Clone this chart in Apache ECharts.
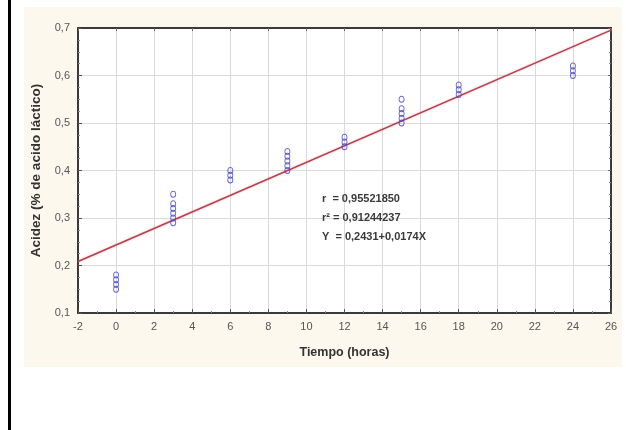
<!DOCTYPE html>
<html>
<head>
<meta charset="utf-8">
<script src="https://cdn.jsdelivr.net/npm/echarts@6/dist/echarts.min.js"></script>
<style>
html,body{margin:0;padding:0;background:#fff;}
#c{width:626px;height:430px;}
</style>
</head>
<body>
<div id="c"></div>
<script>
// Data
const hours = [0, 3, 6, 9, 12, 15, 18, 24];
const acidity = [
  [0.15, 0.16, 0.17, 0.18],
  [0.29, 0.30, 0.31, 0.32, 0.33, 0.35],
  [0.38, 0.39, 0.40],
  [0.40, 0.41, 0.42, 0.43, 0.44],
  [0.45, 0.46, 0.47],
  [0.50, 0.51, 0.52, 0.53, 0.55],
  [0.56, 0.57, 0.58],
  [0.60, 0.61, 0.62]
];
const intercept = 0.2431;
const slope = 0.0174;
const xRange = [-2, 26];
const statLines = ['r  = 0,95521850', 'r\u00B2 = 0,91244237', 'Y  = 0,2431+0,0174X'];

const points = [];
hours.forEach((h, i) => acidity[i].forEach(v => points.push([h, v])));
const fitLine = xRange.map(x => [x, intercept + slope * x]);

const fmtY = v => v.toFixed(1).replace('.', ',');
const font = 'Liberation Sans, Arial, sans-serif';

const chart = echarts.init(document.getElementById('c'));
chart.setOption({
  animation: false,
  backgroundColor: '#ffffff',
  textStyle: { fontFamily: font },
  graphic: [
    { type: 'rect', z: -10, shape: { x: 24, y: 7, width: 598, height: 360 }, style: { fill: '#fdf8ee' } },
    { type: 'rect', z: -10, shape: { x: 8, y: 0, width: 3, height: 430 }, style: { fill: '#000' } },
    { type: 'text', left: 322, top: 189, z: 100, style: { text: statLines.join('\n'), font: 'bold 11px ' + font, fill: '#3a3a3a', lineHeight: 19 } }
  ],
  grid: { left: 78, right: 15, top: 28, bottom: 117, show: true, backgroundColor: '#ffffff', borderColor: '#3a3a3a', borderWidth: 2 },
  xAxis: [{
    type: 'value', min: -2, max: 26, interval: 2,
    name: 'Tiempo (horas)', nameLocation: 'middle', nameGap: 33,
    nameTextStyle: { fontWeight: 'bold', fontSize: 12.5, color: '#333' },
    axisLine: { show: true, onZero: false, lineStyle: { color: '#3a3a3a', width: 2 } },
    axisTick: { show: true, inside: true, length: 4, lineStyle: { color: '#555' } },
    minorTick: { show: true, splitNumber: 2, length: 2, lineStyle: { color: '#888' } },
    axisLabel: { color: '#555', fontSize: 11, margin: 8 },
    splitLine: { show: true, lineStyle: { color: '#dadada', width: 1 } }
  }, {
    type: 'value', position: 'top', min: -2, max: 26, interval: 2,
    axisLine: { show: true, onZero: false, lineStyle: { color: '#3a3a3a', width: 2 } },
    axisTick: { show: true, inside: true, length: 3, lineStyle: { color: '#666' } },
    axisLabel: { show: false }, splitLine: { show: false }
  }],
  yAxis: [{
    type: 'value', min: 0.1, max: 0.7, interval: 0.1,
    name: 'Acidez (% de acido láctico)', nameLocation: 'middle', nameGap: 35,
    nameTextStyle: { fontWeight: 'bold', fontSize: 13.5, color: '#333' },
    axisLine: { show: true, onZero: false, lineStyle: { color: '#3a3a3a', width: 2 } },
    axisTick: { show: true, inside: true, length: 4, lineStyle: { color: '#555' } },
    minorTick: { show: true, splitNumber: 4, length: 2, lineStyle: { color: '#888' } },
    axisLabel: { color: '#555', fontSize: 11, margin: 8, formatter: fmtY },
    splitLine: { show: true, lineStyle: { color: '#dadada', width: 1 } }
  }, {
    type: 'value', position: 'right', min: 0.1, max: 0.7, interval: 0.1,
    axisLine: { show: true, onZero: false, lineStyle: { color: '#3a3a3a', width: 2 } },
    axisTick: { show: true, inside: true, length: 3, lineStyle: { color: '#666' } },
    minorTick: { show: true, splitNumber: 4, length: 2, lineStyle: { color: '#888' } },
    axisLabel: { show: false }, splitLine: { show: false }
  }],
  series: [
    {
      type: 'line', data: fitLine, showSymbol: false, z: 3,
      lineStyle: { color: '#b8404c', width: 1.5, shadowColor: 'rgba(230,120,140,0.6)', shadowBlur: 2 }
    },
    {
      type: 'scatter', data: points, symbol: 'circle', symbolSize: [5, 6], z: 4,
      itemStyle: { color: 'rgba(255,255,255,0)', borderColor: '#4a4ac8', borderWidth: 1 }
    }
  ]
});
</script>
</body>
</html>
